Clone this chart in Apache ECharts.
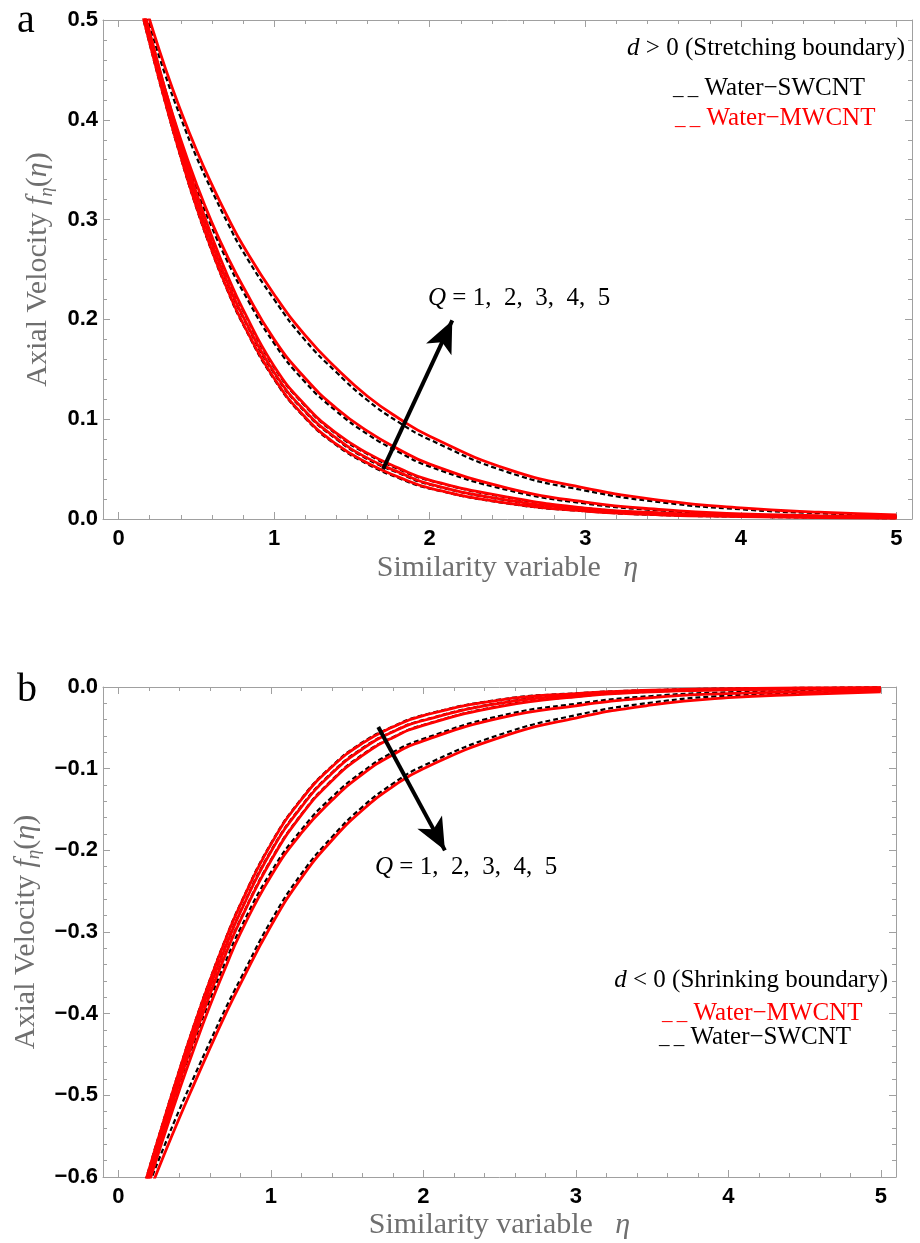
<!DOCTYPE html>
<html><head><meta charset="utf-8">
<script src="https://cdn.jsdelivr.net/npm/echarts@6/dist/echarts.min.js"></script>
<style>html,body{margin:0;padding:0;background:#fff}#c{width:920px;height:1243px}</style>
</head><body><div id="c"></div>
<script>
// ---- data ----
const eta = [0.15,0.2,0.3,0.4,0.5,0.6,0.7,0.8,1.0,1.2,1.4,1.6,1.8,2.0,2.5,3.0,3.5,4.0,4.5,5.0];

// panel a: d > 0 (stretching)
const topMW_Q1 = [0.508,0.477,0.418,0.363,0.313,0.269,0.230,0.196,0.141,0.102,0.075,0.056,0.042,0.031,0.016,0.008,0.004,0.0025,0.0015,0.001];
const topMW_Q2 = [0.512,0.482,0.424,0.370,0.320,0.276,0.237,0.203,0.147,0.108,0.081,0.061,0.047,0.035,0.019,0.0095,0.005,0.003,0.002,0.0012];
const topMW_Q3 = [0.516,0.487,0.430,0.377,0.327,0.283,0.244,0.210,0.153,0.114,0.086,0.066,0.051,0.039,0.022,0.011,0.006,0.0035,0.0025,0.0015];
const topMW_Q4 = [0.517,0.487,0.430,0.380,0.336,0.297,0.263,0.233,0.180,0.141,0.111,0.088,0.070,0.055,0.031,0.017,0.0093,0.0051,0.0034,0.0025];
const topMW_Q5 = [0.526,0.50,0.452,0.409,0.370,0.335,0.303,0.274,0.225,0.184,0.151,0.123,0.101,0.083,0.050,0.031,0.0185,0.0112,0.0068,0.0041];
const topSW_Q1 = [0.507,0.476,0.417,0.362,0.312,0.268,0.229,0.195,0.140,0.101,0.074,0.055,0.041,0.0305,0.0155,0.0078,0.0039,0.0024,0.0014,0.0009];
const topSW_Q2 = [0.511,0.481,0.423,0.369,0.319,0.275,0.236,0.202,0.146,0.107,0.080,0.060,0.046,0.0345,0.0185,0.0093,0.0049,0.0029,0.0019,0.0011];
const topSW_Q3 = [0.515,0.486,0.429,0.376,0.326,0.282,0.243,0.209,0.152,0.113,0.085,0.065,0.050,0.0385,0.0215,0.0108,0.0058,0.0034,0.0024,0.0014];
const topSW_Q4 = [0.512,0.482,0.425,0.375,0.331,0.292,0.258,0.228,0.176,0.137,0.108,0.085,0.0672,0.0525,0.029,0.0155,0.0083,0.0044,0.0029,0.0022];
const topSW_Q5 = [0.520,0.494,0.445,0.402,0.363,0.329,0.297,0.268,0.220,0.179,0.147,0.119,0.097,0.0795,0.047,0.0285,0.0165,0.0097,0.0058,0.0035];

// panel b: d < 0 (shrinking)
const botMW_Q1 = [-0.625,-0.592,-0.530,-0.470,-0.413,-0.360,-0.311,-0.267,-0.193,-0.138,-0.098,-0.069,-0.049,-0.035,-0.016,-0.008,-0.004,-0.002,-0.0012,-0.0008];
const botMW_Q2 = [-0.63,-0.597,-0.536,-0.477,-0.421,-0.368,-0.320,-0.276,-0.202,-0.147,-0.106,-0.076,-0.055,-0.041,-0.020,-0.010,-0.005,-0.003,-0.002,-0.001];
const botMW_Q3 = [-0.635,-0.602,-0.542,-0.484,-0.429,-0.377,-0.329,-0.286,-0.213,-0.157,-0.115,-0.084,-0.062,-0.047,-0.024,-0.012,-0.006,-0.0035,-0.0025,-0.0015];
const botMW_Q4 = [-0.64,-0.608,-0.550,-0.494,-0.441,-0.391,-0.345,-0.302,-0.232,-0.179,-0.139,-0.107,-0.083,-0.066,-0.038,-0.023,-0.013,-0.008,-0.006,-0.004];
const botMW_Q5 = [-0.645,-0.62,-0.573,-0.528,-0.485,-0.443,-0.402,-0.364,-0.293,-0.234,-0.188,-0.151,-0.122,-0.100,-0.062,-0.038,-0.022,-0.013,-0.009,-0.006];
const botSW_Q1 = [-0.624,-0.591,-0.529,-0.469,-0.412,-0.359,-0.310,-0.266,-0.192,-0.137,-0.097,-0.068,-0.0485,-0.0345,-0.0155,-0.0077,-0.0038,-0.0019,-0.0011,-0.0007];
const botSW_Q2 = [-0.629,-0.596,-0.535,-0.476,-0.420,-0.367,-0.319,-0.275,-0.201,-0.146,-0.105,-0.075,-0.0545,-0.0405,-0.0195,-0.0097,-0.0048,-0.0029,-0.0019,-0.0009];
const botSW_Q3 = [-0.634,-0.601,-0.541,-0.483,-0.428,-0.376,-0.328,-0.285,-0.212,-0.156,-0.114,-0.083,-0.0615,-0.0465,-0.0235,-0.0117,-0.0058,-0.0034,-0.0024,-0.0014];
const botSW_Q4 = [-0.631,-0.599,-0.542,-0.486,-0.433,-0.383,-0.338,-0.296,-0.227,-0.175,-0.135,-0.104,-0.080,-0.0635,-0.0355,-0.0205,-0.011,-0.0065,-0.0048,-0.0030];
const botSW_Q5 = [-0.635,-0.61,-0.563,-0.518,-0.476,-0.435,-0.395,-0.358,-0.287,-0.229,-0.184,-0.147,-0.1185,-0.0965,-0.0585,-0.0345,-0.019,-0.0105,-0.007,-0.0045];

// ticks
const xMajorTicks = [0,1,2,3,4,5];
const xMinorTicks = [0.2,0.4,0.6,0.8,1.2,1.4,1.6,1.8,2.2,2.4,2.6,2.8,3.2,3.4,3.6,3.8,4.2,4.4,4.6,4.8];
const xRange = [-0.1, 5.1];
const yTopRange = [0, 0.5];
const yBotRange = [-0.6, 0];
const yStep = 0.1;

// arrows (data coordinates)
const arrowTop = [[1.70, 0.050], [2.145, 0.199]];
const arrowBot = [[1.705, -0.049], [2.142, -0.200]];

// ---- styling ----
const FRAME = '#a0a0a0';
const GRAY = '#6f6f6f';
const SERIF = 'Liberation Serif';
const SANS = 'Liberation Sans';

const nameRich = {
  n: {fontFamily: SERIF, fontSize: 30, color: GRAY, lineHeight: 36},
  i: {fontFamily: SERIF, fontSize: 30, color: GRAY, fontStyle: 'italic', lineHeight: 36},
  s: {fontFamily: SERIF, fontSize: 19, color: GRAY, fontStyle: 'italic', lineHeight: 19, verticalAlign: 'bottom'}
};
const yName = '{n|Axial Velocity }{i|f}{s|η}{n|(}{i|η}{n|)}';
const xName = '{n|Similarity variable   }{i|η}';

function fmtY(v) {
  const a = Math.abs(v).toFixed(1);
  return v < -1e-9 ? '\u2212' + a : a;
}

function xAxes(gi, gap) {
  const base = {gridIndex: gi, type: 'value', min: xRange[0], max: xRange[1], splitLine: {show: false}};
  return [
    Object.assign({}, base, {position: 'bottom',
      axisLine: {show: true, onZero: false, lineStyle: {color: FRAME, width: 1}},
      axisTick: {show: true, inside: true, length: 7, customValues: xMajorTicks, lineStyle: {color: FRAME}},
      axisLabel: {show: true, customValues: xMajorTicks, margin: 9, color: '#000', fontFamily: SANS, fontWeight: 'bold', fontSize: 22, formatter: v => String(Math.round(v))},
      name: xName, nameLocation: 'middle', nameGap: gap, nameTextStyle: {rich: nameRich}}),
    Object.assign({}, base, {position: 'bottom',
      axisLine: {show: false, onZero: false},
      axisTick: {show: true, inside: true, length: 4, customValues: xMinorTicks, lineStyle: {color: FRAME}},
      axisLabel: {show: false}}),
    Object.assign({}, base, {position: 'top',
      axisLine: {show: true, onZero: false, lineStyle: {color: FRAME, width: 1}},
      axisTick: {show: true, inside: true, length: 7, customValues: xMajorTicks, lineStyle: {color: FRAME}},
      axisLabel: {show: false}}),
    Object.assign({}, base, {position: 'top',
      axisLine: {show: false, onZero: false},
      axisTick: {show: true, inside: true, length: 4, customValues: xMinorTicks, lineStyle: {color: FRAME}},
      axisLabel: {show: false}})
  ];
}
function yAxes(gi, range, gap) {
  const base = {gridIndex: gi, type: 'value', min: range[0], max: range[1], interval: yStep,
    splitLine: {show: false}, minorSplitLine: {show: false}};
  return [
    Object.assign({}, base, {position: 'left',
      axisLine: {show: true, onZero: false, lineStyle: {color: FRAME, width: 1}},
      axisTick: {show: true, inside: true, length: 7, lineStyle: {color: FRAME}},
      minorTick: {show: true, splitNumber: 5, length: 4, lineStyle: {color: FRAME}},
      axisLabel: {show: true, margin: 5, color: '#000', fontFamily: SANS, fontWeight: 'bold', fontSize: 22, formatter: fmtY},
      name: yName, nameLocation: 'middle', nameRotate: 90, nameGap: gap, nameTextStyle: {rich: nameRich}}),
    Object.assign({}, base, {position: 'right',
      axisLine: {show: true, onZero: false, lineStyle: {color: FRAME, width: 1}},
      axisTick: {show: true, inside: true, length: 7, lineStyle: {color: FRAME}},
      minorTick: {show: true, splitNumber: 5, length: 4, lineStyle: {color: FRAME}},
      axisLabel: {show: false}})
  ];
}

function pts(arr) { return eta.map((x, i) => [x, arr[i]]); }

function curve(arr, xi, yi, dashed) {
  return {
    type: 'line', xAxisIndex: xi, yAxisIndex: yi, data: pts(arr),
    showSymbol: false, symbol: 'none', smooth: 0.5, clip: true,
    silent: true, z: dashed ? 2 : 3,
    lineStyle: dashed ? {color: '#000', width: 2.2, type: [5, 3]} : {color: '#ff0000', width: 2.8}
  };
}
function arrow(coords, xi, yi) {
  return {
    type: 'line', xAxisIndex: xi, yAxisIndex: yi, data: [], silent: true, z: 5,
    markLine: {silent: true, symbol: ['none', 'arrow'], symbolSize: [21, 32], animation: false,
      label: {show: false}, emphasis: {disabled: true},
      lineStyle: {color: '#000', width: 4, type: 'solid'},
      data: [[{coord: coords[0]}, {coord: coords[1]}]]}
  };
}

const topSW = [topSW_Q1, topSW_Q2, topSW_Q3, topSW_Q4, topSW_Q5];
const topMW = [topMW_Q1, topMW_Q2, topMW_Q3, topMW_Q4, topMW_Q5];
const botSW = [botSW_Q1, botSW_Q2, botSW_Q3, botSW_Q4, botSW_Q5];
const botMW = [botMW_Q1, botMW_Q2, botMW_Q3, botMW_Q4, botMW_Q5];

const series = [];
topSW.forEach(a => series.push(curve(a, 0, 0, true)));
topMW.forEach(a => series.push(curve(a, 0, 0, false)));
botSW.forEach(a => series.push(curve(a, 4, 2, true)));
botMW.forEach(a => series.push(curve(a, 4, 2, false)));
series.push(arrow(arrowTop, 0, 0));
series.push(arrow(arrowBot, 4, 2));

const txt = (x, y, text, color, align, size, rich) => ({
  type: 'text', x: x, y: y, silent: true, z: 10,
  style: {text: text, fill: color, align: align, verticalAlign: 'middle',
    fontFamily: SERIF, fontSize: size, rich: rich}
});
const legRich = (c) => ({
  i: {fontFamily: SERIF, fontSize: 25, fontStyle: 'italic', color: c},
  n: {fontFamily: SERIF, fontSize: 25, color: c},
  u: {fontFamily: SERIF, fontSize: 21, color: c}
});
const DASH = '{u|_\u2009_}';

const chart = echarts.init(document.getElementById('c'), null, {renderer: 'canvas'});
chart.setOption({
  animation: false,
  backgroundColor: '#fff',
  grid: [
    {left: 103, top: 20, width: 809, height: 499, containLabel: false},
    {left: 103, top: 687, width: 793, height: 490, containLabel: false}
  ],
  xAxis: xAxes(0, 31).concat(xAxes(1, 30)),
  yAxis: yAxes(0, yTopRange, 45).concat(yAxes(1, yBotRange, 58)),
  series: series,
  graphic: [
    txt(17, 21, 'a', '#000', 'left', 40),
    txt(17, 690, 'b', '#000', 'left', 40),
    txt(905, 48, '{i|d}{n| > 0 (Stretching boundary)}', '#000', 'right', 25, legRich('#000')),
    txt(673, 88, DASH + '{n| Water\u2212SWCNT}', '#000', 'left', 25, legRich('#000')),
    txt(675, 118, DASH + '{n| Water\u2212MWCNT}', '#ff0000', 'left', 25, legRich('#ff0000')),
    txt(428, 298, '{i|Q}{n| = 1,  2,  3,  4,  5}', '#000', 'left', 25, legRich('#000')),
    txt(888, 980, '{i|d}{n| < 0 (Shrinking boundary)}', '#000', 'right', 25, legRich('#000')),
    txt(662, 1013, DASH + '{n| Water\u2212MWCNT}', '#ff0000', 'left', 25, legRich('#ff0000')),
    txt(659, 1037, DASH + '{n| Water\u2212SWCNT}', '#000', 'left', 25, legRich('#000')),
    txt(375, 867, '{i|Q}{n| = 1,  2,  3,  4,  5}', '#000', 'left', 25, legRich('#000'))
  ]
});
</script></body></html>
